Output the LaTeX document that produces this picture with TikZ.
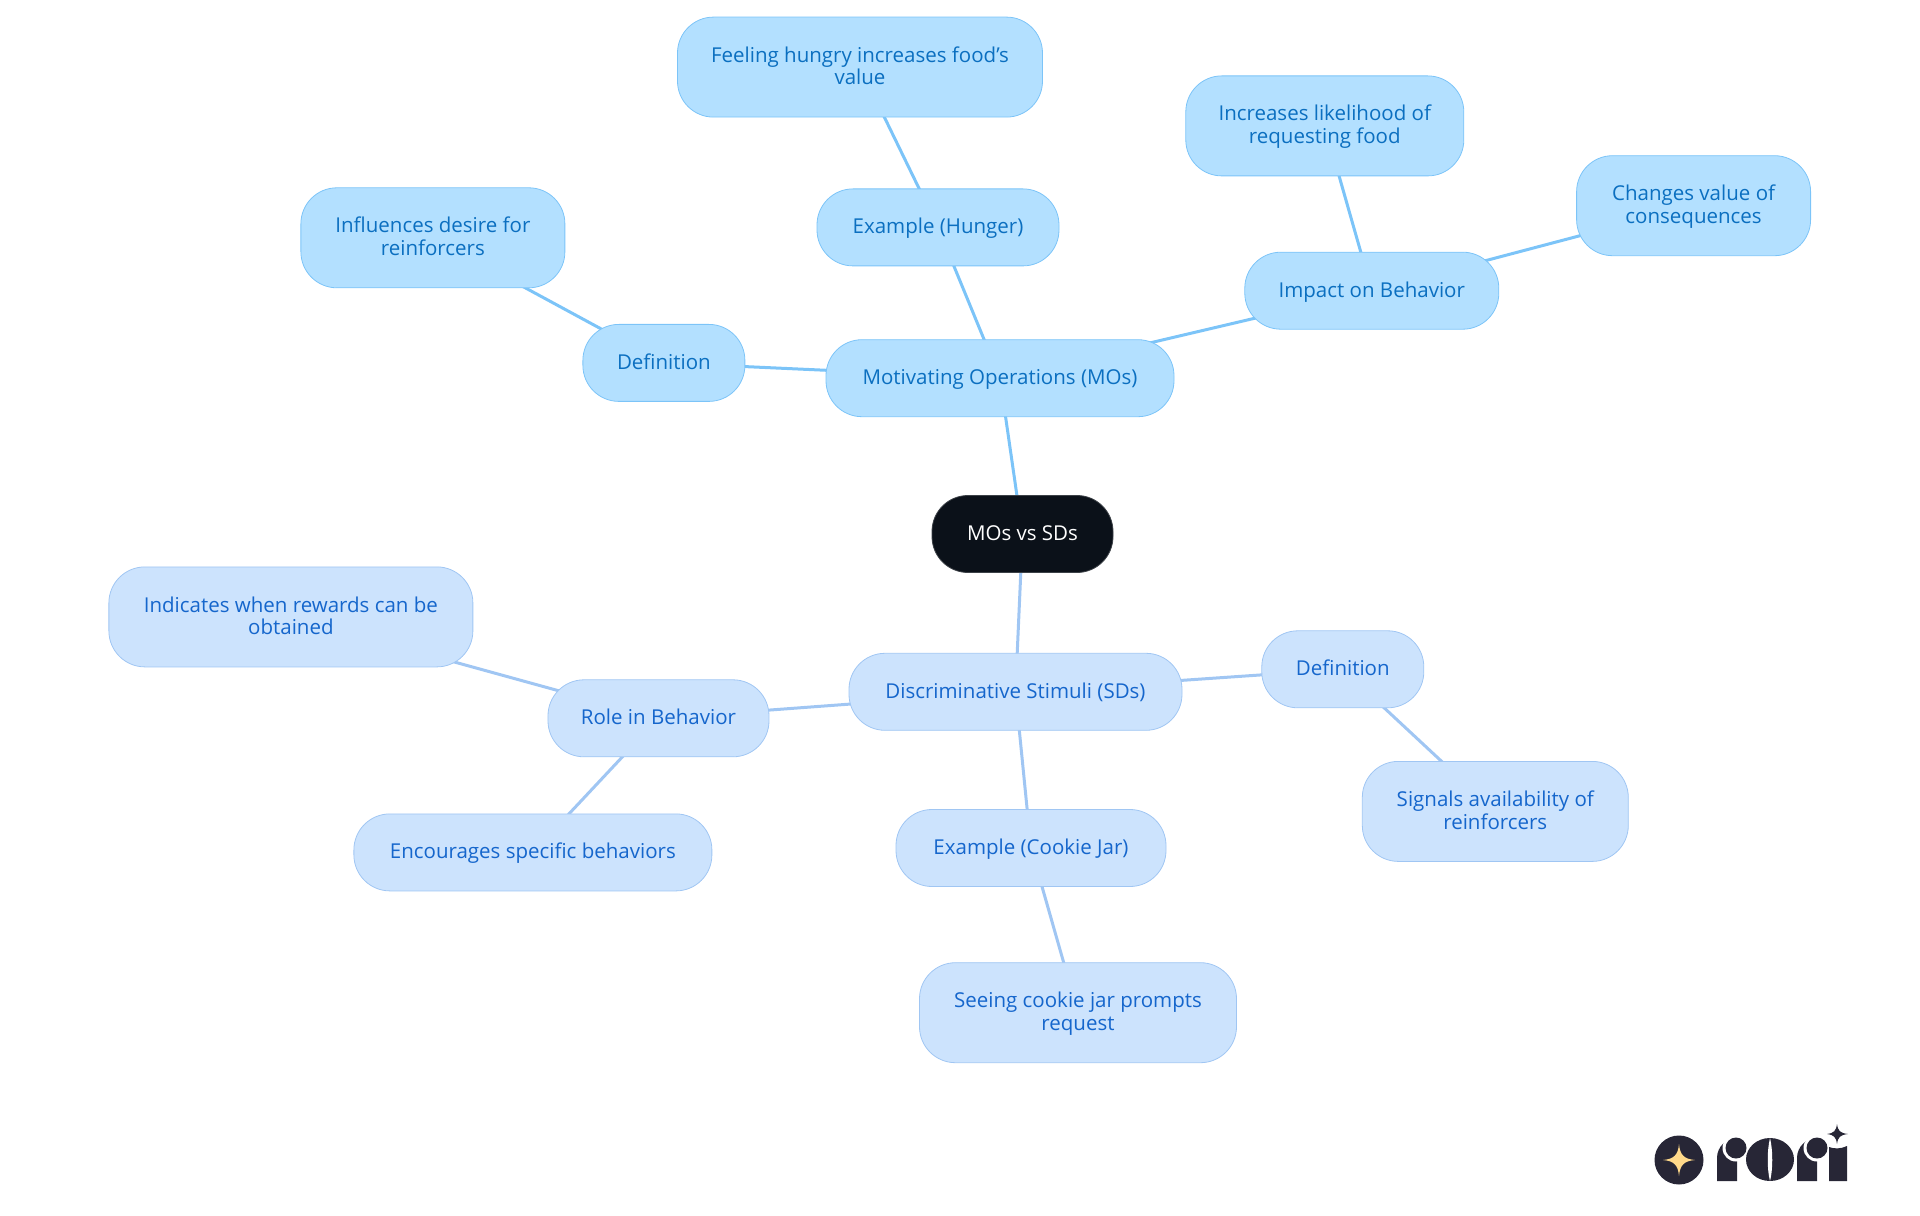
\documentclass[tikz,border=0pt]{standalone}
\usepackage{fontspec}
\setmainfont{Open Sans}
\usepackage{xcolor}
\usetikzlibrary{positioning,backgrounds}
\definecolor{mofill}{HTML}{B3E0FF}
\definecolor{moline}{HTML}{7CC4F8}
\definecolor{motext}{HTML}{0B6FC0}
\definecolor{sdfill}{HTML}{CCE3FD}
\definecolor{sdline}{HTML}{A0C6F3}
\definecolor{sdtext}{HTML}{1566CC}
\definecolor{rootfill}{HTML}{0B1119}
\definecolor{logodark}{HTML}{272636}
\definecolor{logostar}{HTML}{FFD98A}
\tikzset{
  pill/.style={draw, rounded corners=18pt, align=center, inner sep=0pt, minimum height=38.5pt, text height=8.2pt, text depth=1.7pt, font=\fontsize{10.25}{11.4}\selectfont},
  tallpill/.style={pill, minimum height=50pt, text height=19.6pt},
  mopill/.style={pill, fill=mofill, draw=moline, text=motext},
  motall/.style={tallpill, fill=mofill, draw=moline, text=motext},
  sdpill/.style={pill, fill=sdfill, draw=sdline, text=sdtext},
  sdtall/.style={tallpill, fill=sdfill, draw=sdline, text=sdtext},
  moedge/.style={draw=moline, line width=1.5pt},
  sdedge/.style={draw=sdline, line width=1.5pt},
}
\begin{document}
\begin{tikzpicture}
\useasboundingbox (-511.25pt,267pt) rectangle (448.75pt,-340.5pt);
\node[pill, fill=rootfill, draw=rootfill!80!white, text=white, minimum width=90.5pt] (root) at (0,0) {MOs vs SDs};
% upper branch
\node[mopill, minimum width=174pt, above=39pt of root, xshift=-11.25pt] (mos) {Motivating Operations (MOs)};
\node[mopill, minimum width=81pt, left=40.15pt of mos, yshift=7.65pt] (mosdef) {Definition};
\node[motall, minimum width=132pt, above=17.9pt of mosdef, xshift=-115.5pt] (mosdesire) {Influences desire for\\reinforcers};
\node[mopill, minimum width=121pt, above=36.5pt of mos, xshift=-31pt] (hunger) {Example (Hunger)};
\node[motall, minimum width=182.5pt, above=35.5pt of hunger, xshift=-39pt] (feeling) {Feeling hungry increases food's\\value};
\node[mopill, minimum width=127pt, right=35pt of mos, yshift=43.75pt] (impact) {Impact on Behavior};
\node[motall, minimum width=139pt, above=37.75pt of impact, xshift=-23.5pt] (likely) {Increases likelihood of\\requesting food};
\node[motall, minimum width=117pt, right=38.5pt of impact, yshift=42.5pt] (changes) {Changes value of\\consequences};
% lower branch
\node[sdpill, minimum width=166.5pt, below=40pt of root, xshift=-3.5pt] (sds) {Discriminative Stimuli (SDs)};
\node[sdpill, minimum width=110.5pt, left=39.6pt of sds, yshift=-13.25pt] (role) {Role in Behavior};
\node[sdtall, minimum width=182pt, above=6.05pt of role, xshift=-183.8pt] (rewards) {Indicates when rewards can be\\obtained};
\node[sdpill, minimum width=179pt, below=28.15pt of role, xshift=-62.8pt] (encourage) {Encourages specific behaviors};
\node[sdpill, minimum width=81pt, right=39.5pt of sds, yshift=11.25pt] (sdsdef) {Definition};
\node[sdtall, minimum width=133pt, below=26.4pt of sdsdef, xshift=76.25pt] (signals) {Signals availability of\\reinforcers};
\node[sdpill, minimum width=135pt, below=39.2pt of sds, xshift=7.75pt] (cookie) {Example (Cookie Jar)};
\node[sdtall, minimum width=158.5pt, below=37.7pt of cookie, xshift=23.5pt] (seeing) {Seeing cookie jar prompts\\request};
\begin{pgfonlayer}{background}
\draw[moedge] (root.center) -- (mos.center);
\draw[moedge] (mos.center) -- (mosdef.center);
\draw[moedge] (mosdef.center) -- (mosdesire.center);
\draw[moedge] (mos.center) -- (hunger.center);
\draw[moedge] (hunger.center) -- (feeling.center);
\draw[moedge] (mos.center) -- (impact.center);
\draw[moedge] (impact.center) -- (likely.center);
\draw[moedge] (impact.center) -- (changes.center);
\draw[sdedge] (root.center) -- (sds.center);
\draw[sdedge] (sds.center) -- (role.center);
\draw[sdedge] (role.center) -- (rewards.center);
\draw[sdedge] (role.center) -- (encourage.center);
\draw[sdedge] (sds.center) -- (sdsdef.center);
\draw[sdedge] (sdsdef.center) -- (signals.center);
\draw[sdedge] (sds.center) -- (cookie.center);
\draw[sdedge] (cookie.center) -- (seeing.center);
\end{pgfonlayer}
% logo, in pixels of the page
\begin{scope}[shift={(-511.25pt,267pt)}, x=0.5pt, y=-0.5pt]
\fill[logodark] (1679,1160) circle[radius=24.5];
\fill[logostar] (1679,1144) .. controls (1680,1155) and (1684,1159) .. (1695,1160) .. controls (1684,1161) and (1680,1165) .. (1679,1176) .. controls (1678,1165) and (1674,1161) .. (1663,1160) .. controls (1674,1159) and (1678,1155) .. (1679,1144) -- cycle;
\fill[logodark] (1717,1181) -- (1717,1158) arc[start angle=180, end angle=270, radius=20] -- (1737,1181) -- cycle;
\fill[white] (1736,1148) circle[radius=13.5];
\fill[logodark] (1736,1148) circle[radius=10.5];
\fill[logodark] (1770,1159.5) ellipse[x radius=24, y radius=21.5];
\fill[white] (1770,1138) .. controls (1767,1150) and (1767,1170) .. (1770,1181) .. controls (1773,1170) and (1773,1150) .. (1770,1138) -- cycle;
\fill[logodark] (1797,1181) -- (1797,1158) arc[start angle=180, end angle=270, radius=20] -- (1817,1181) -- cycle;
\fill[white] (1817,1148) circle[radius=13.5];
\fill[logodark] (1817,1148) circle[radius=10.5];
\fill[logodark] (1829,1147) .. controls (1834,1149) and (1841,1149) .. (1847,1146) -- (1847,1181) -- (1829,1181) -- cycle;
\fill[logodark] (1837,1124) .. controls (1838,1131) and (1840,1133) .. (1848,1134) .. controls (1840,1135) and (1838,1137) .. (1837,1144) .. controls (1836,1137) and (1834,1135) .. (1827,1134) .. controls (1834,1133) and (1836,1131) .. (1837,1124) -- cycle;
\end{scope}
\end{tikzpicture}
\end{document}
